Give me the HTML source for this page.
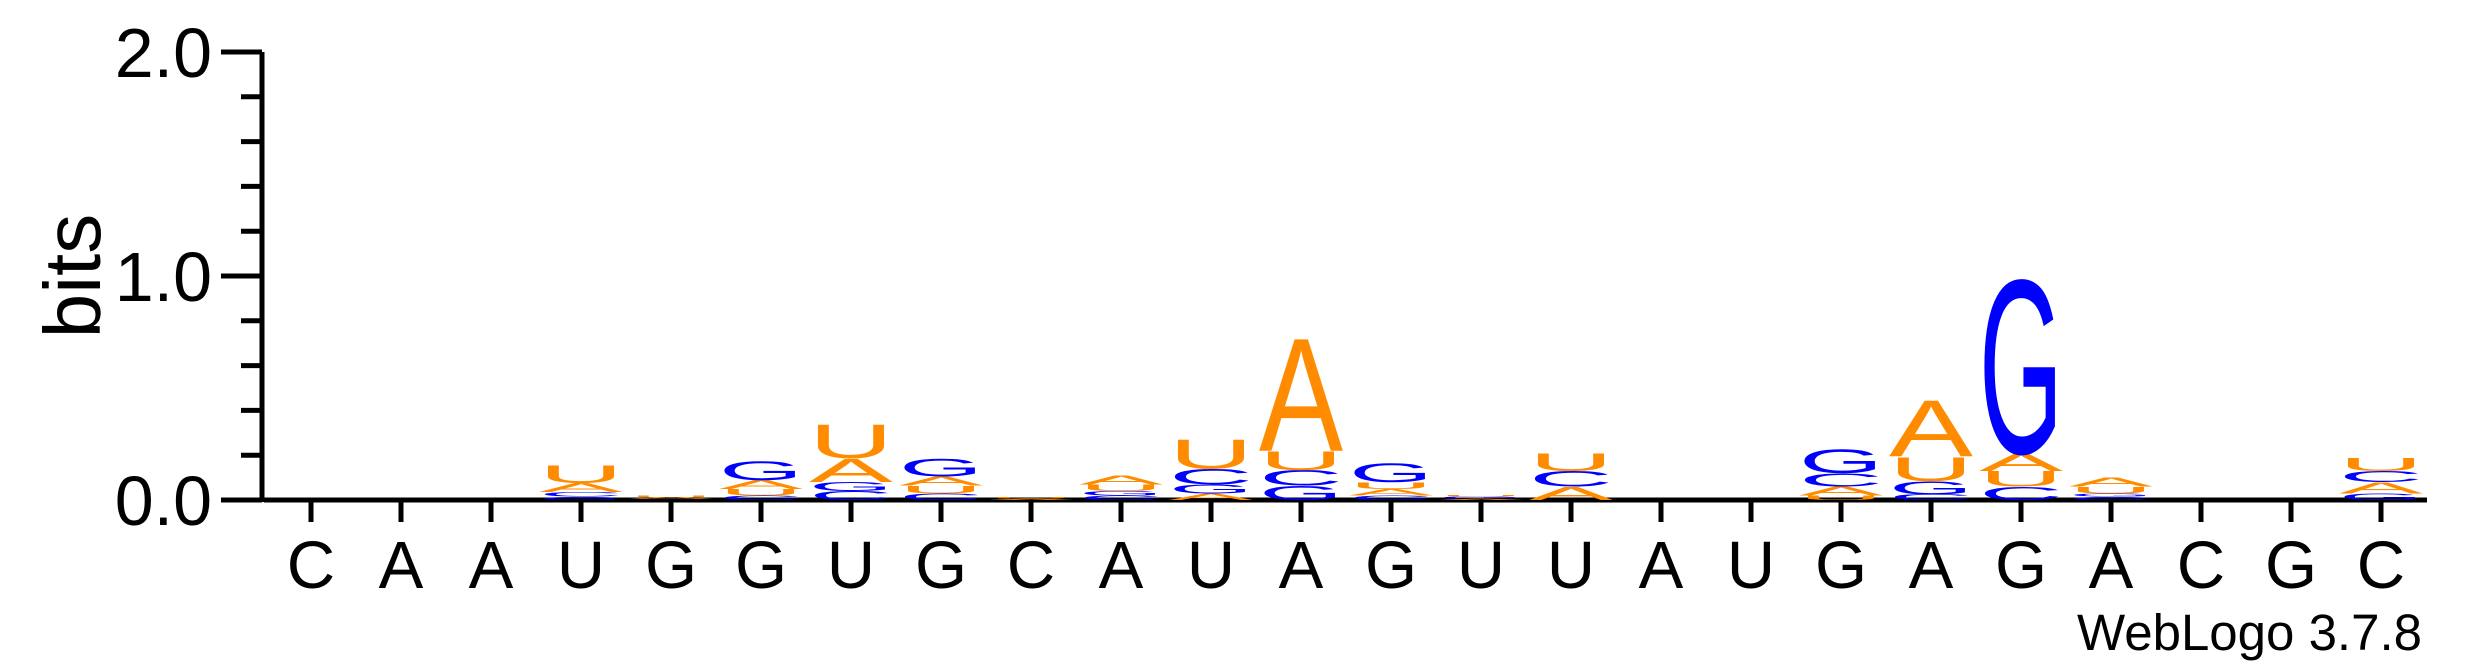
<!DOCTYPE html>
<html><head><meta charset="utf-8"><style>
html,body{margin:0;padding:0;background:#fff;}
svg{display:block;}
text{font-family:"Liberation Sans",Arial,sans-serif;}
</style></head><body>
<svg id="chart" width="2475" height="667" viewBox="0 0 2475 667" xmlns="http://www.w3.org/2000/svg">
<g id="axes"></g>
<g id="stacks"></g>
<text x="0" y="0" font-size="80" text-anchor="middle" transform="translate(100,276) rotate(-90)">bits</text>
<text x="2422" y="650" font-size="51" text-anchor="end">WebLogo 3.7.8</text>
</svg>
<script>
const NS = "http://www.w3.org/2000/svg";
const sequence = ["C","A","A","U","G","G","U","G","C","A","U","A","G","U","U","A","U","G","A","G","A","C","G","C"];
const yTicks = [0, 1, 2];
const yTickLabels = ["0.0", "1.0", "2.0"];
const heightsA = [0,0,0,0.04,0.008,0.04,0.107,0.04,0.006,0.04,0.03,0.52,0.03,0.005,0.06,0,0,0.04,0.26,0.08,0.04,0,0,0.05];
const heightsC = [0,0,0,0.02,0.004,0.02,0.04,0.03,0,0.02,0.07,0.07,0.02,0.005,0.07,0,0,0.06,0.025,0.06,0.015,0,0,0.05];
const heightsG = [0,0,0,0.015,0,0.085,0.04,0.08,0,0.02,0.04,0.065,0.085,0.005,0,0,0,0.11,0.06,0.80,0.015,0,0,0.03];
const heightsU = [0,0,0,0.08,0.008,0.03,0.155,0.035,0.006,0.03,0.135,0.085,0.03,0.005,0.08,0,0,0.02,0.11,0.07,0.03,0,0,0.06];

const X0 = 311, DX = 90, Y0 = 500, PX_PER_BIT = 224, COLW = 84;
const xScale = i => X0 + DX * i;
const yScale = b => Y0 - PX_PER_BIT * b;
const colors = {A:"#FF8C00", U:"#FF8C00", C:"#0000FF", G:"#0000FF"};

const axes = document.getElementById("axes");
function line(x1,y1,x2,y2,w,name){
  const l = document.createElementNS(NS,"line");
  l.setAttribute("x1",x1);l.setAttribute("y1",y1);l.setAttribute("x2",x2);l.setAttribute("y2",y2);
  l.setAttribute("stroke","#000");l.setAttribute("stroke-width",w);
  
  
  axes.appendChild(l);
}
line(262, yScale(2), 262, Y0+2, 5, "y-axis-line");
line(264, Y0, 2427, Y0, 5, "x-axis-line");
for (let k = 0; k <= 10; k++) {
  const b = k * 0.2;
  const major = (k % 5 === 0);
  line(major ? 221 : 241, yScale(b), 262, yScale(b), 5, major ? "y-major-tick" : "y-minor-tick");
}
yTicks.forEach((v, i) => {
  const t = document.createElementNS(NS,"text");
  t.setAttribute("x", 212); t.setAttribute("y", yScale(v) + 25);
  t.setAttribute("font-size", 70); t.setAttribute("text-anchor","end");
  t.textContent = yTickLabels[i];
  
  
  axes.appendChild(t);
});
sequence.forEach((s, i) => {
  line(xScale(i), Y0, xScale(i), Y0 + 22, 5, "x-tick");
  const t = document.createElementNS(NS,"text");
  t.setAttribute("x", xScale(i)); t.setAttribute("y", 588);
  t.setAttribute("font-size", 67); t.setAttribute("text-anchor","middle");
  t.textContent = s;
  
  
  axes.appendChild(t);
});

const stacks = document.getElementById("stacks");
const FS = 100, CAP = 0.72 * FS;
sequence.forEach((s, i) => {
  const items = [["A",heightsA[i]],["C",heightsC[i]],["G",heightsG[i]],["U",heightsU[i]]]
    .filter(d => d[1] > 0).sort((a,b) => a[1]-b[1]);
  let base = 0;
  items.forEach(([L, h]) => {
    const yb = yScale(base), yt = yScale(base + h);
    const hp = yb - yt;
    const t = document.createElementNS(NS,"text");
    t.setAttribute("x", 0); t.setAttribute("y", 0);
    t.setAttribute("font-size", FS);
    t.setAttribute("textLength", COLW);
    t.setAttribute("lengthAdjust", "spacingAndGlyphs");
    t.setAttribute("fill", colors[L]);
    t.setAttribute("transform", `translate(${xScale(i) - COLW/2},${yb}) scale(1,${hp / CAP})`);
    t.textContent = L;
    
    
    stacks.appendChild(t);
    base += h;
  });
});
</script>
</body></html>
